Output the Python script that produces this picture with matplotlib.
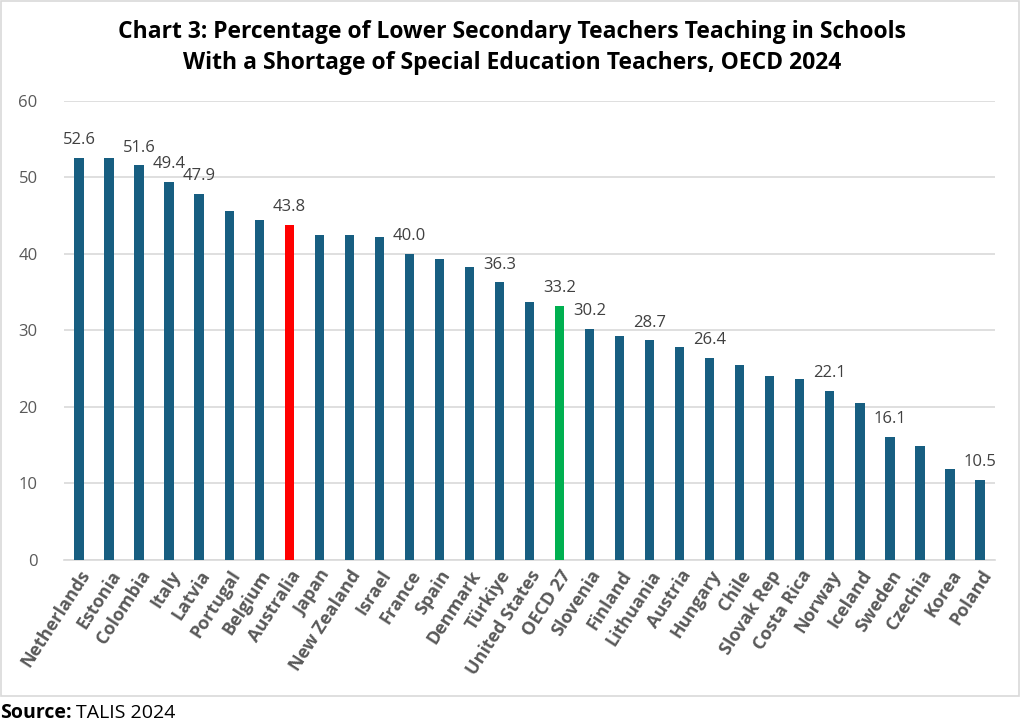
import matplotlib
matplotlib.use("Agg")
import matplotlib.pyplot as plt
from matplotlib.patches import Rectangle

countries = ["Netherlands", "Estonia", "Colombia", "Italy", "Latvia", "Portugal", "Belgium",
             "Australia", "Japan", "New Zealand", "Israel", "France", "Spain", "Denmark",
             "Türkiye", "United States", "OECD 27", "Slovenia", "Finland", "Lithuania",
             "Austria", "Hungary", "Chile", "Slovak Rep", "Costa Rica", "Norway", "Iceland",
             "Sweden", "Czechia", "Korea", "Poland"]
values = [52.6, 52.5, 51.6, 49.4, 47.9, 45.6, 44.4, 43.8, 42.5, 42.5, 42.2, 40.0, 39.4, 38.3,
          36.3, 33.7, 33.2, 30.2, 29.3, 28.7, 27.8, 26.4, 25.5, 24.0, 23.6, 22.1, 20.5,
          16.1, 14.9, 11.9, 10.5]
# which bars get a value label
labelled = ["Netherlands", "Colombia", "Italy", "Latvia", "Australia", "France", "Türkiye",
            "OECD 27", "Slovenia", "Lithuania", "Hungary", "Norway", "Sweden", "Poland"]
yticks = [0, 10, 20, 30, 40, 50, 60]

base_col = "#175e81"
colors = []
for c in countries:
    if c == "Australia":
        colors.append("#ff0000")
    elif c == "OECD 27":
        colors.append("#00b050")
    else:
        colors.append(base_col)

plt.rcParams['font.family'] = ['Open Sans', 'DejaVu Sans']

fig = plt.figure(figsize=(10.24, 7.28), dpi=100)
ax = fig.add_axes([0.0625, 0.2308, 0.9092, 0.6305])

x = list(range(len(countries)))
ax.bar(x, values, width=0.31, color=colors, zorder=3)

for i, (c, v) in enumerate(zip(countries, values)):
    if c in labelled:
        ax.annotate(f"{v:.1f}", (i, v), xytext=(0, 7), textcoords="offset points",
                    ha="center", va="bottom", fontsize=12, color="#404040")

ax.set_xlim(-0.5, len(countries) - 0.5)
ax.set_ylim(0, 60)
ax.set_yticks(yticks)
ax.yaxis.grid(True, color="#d9d9d9", linewidth=1.2, zorder=0)
ax.set_axisbelow(True)
for s in ["top", "right", "left"]:
    ax.spines[s].set_visible(False)
ax.spines["bottom"].set_color("#d9d9d9")
ax.spines["bottom"].set_linewidth(1.2)
ax.tick_params(axis="both", length=0)
ax.tick_params(axis="y", labelsize=12, labelcolor="#595959", pad=19)
ax.set_xticks(x)
ax.set_xticklabels(countries, rotation=57, ha="right", va="top", rotation_mode="anchor",
                   fontsize=13, color="#595959", fontweight="bold")
ax.tick_params(axis="x", pad=5)

fig.text(0.5, 0.972, "Chart 3: Percentage of Lower Secondary Teachers Teaching in Schools\n"
         "With a Shortage of Special Education Teachers, OECD 2024",
         ha="center", va="top", fontsize=16.5, fontweight="bold", linespacing=1.38)

# frame round the chart area
fig.patches.append(Rectangle((0.001, 0.044), 0.994, 0.954, transform=fig.transFigure,
                             fill=False, edgecolor="#d9d9d9", linewidth=1.2))

src = fig.text(0.0, 0.02, "Source:", fontsize=14, fontweight="bold", ha="left", va="center")
fig.canvas.draw()
bb = src.get_window_extent().transformed(fig.transFigure.inverted())
fig.text(bb.x1 + 0.004, 0.02, "TALIS 2024", fontsize=14, ha="left", va="center")

fig.savefig("out.png", dpi=100)
